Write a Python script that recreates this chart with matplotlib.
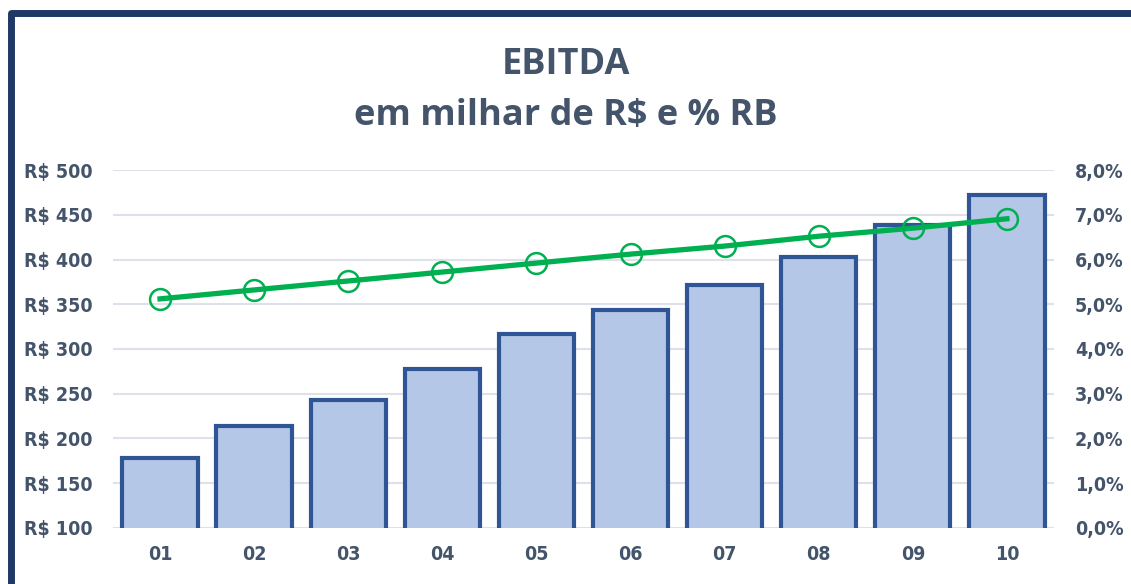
import matplotlib
matplotlib.use("Agg")
import matplotlib.pyplot as plt
from matplotlib.patches import Rectangle
from matplotlib.ticker import FuncFormatter

# dados
categorias = ["01", "02", "03", "04", "05", "06", "07", "08", "09", "10"]
ebitda = [178, 214, 243, 278, 317, 344, 371, 403, 439, 472]
pct_rb = [5.12, 5.32, 5.52, 5.72, 5.92, 6.12, 6.30, 6.52, 6.70, 6.91]

cor_texto = "#44546A"
cor_barra = "#B4C7E7"
cor_borda = "#2F5597"
cor_linha = "#00B050"

fig = plt.figure(figsize=(11.31, 5.84), dpi=100)
ax = fig.add_axes([0.0999, 0.0959, 0.832, 0.613])

x = list(range(len(categorias)))
ax.bar(x, ebitda, width=0.8, bottom=0, color=cor_barra, edgecolor=cor_borda,
       linewidth=3, zorder=3)
ax.set_ylim(100, 500)
ax.set_xlim(-0.5, len(categorias) - 0.5)
ax.set_yticks(range(100, 501, 50))
ax.yaxis.set_major_formatter(FuncFormatter(lambda v, p: "R$ %d" % v))
ax.set_xticks(x)
ax.set_xticklabels(categorias)
ax.grid(axis="y", color="#DDE2EA", linewidth=1.5, zorder=0)
ax.set_axisbelow(True)

ax2 = ax.twinx()
ax2.plot(x, pct_rb, color=cor_linha, linewidth=3.8, marker="o", markersize=15,
         markerfacecolor="none", markeredgecolor=cor_linha, markeredgewidth=1.8,
         zorder=4)
ax2.set_ylim(0, 8)
ax2.set_yticks(range(0, 9))
ax2.yaxis.set_major_formatter(FuncFormatter(lambda v, p: ("%.1f%%" % v).replace(".", ",")))

for a in (ax, ax2):
    for s in a.spines.values():
        s.set_visible(False)
    a.tick_params(length=0, colors=cor_texto, labelsize=14)
    for lbl in a.get_xticklabels() + a.get_yticklabels():
        lbl.set_family("DejaVu Sans")
        lbl.set_stretch("condensed")
        lbl.set_fontweight("bold")
ax.tick_params(axis="y", pad=15)
ax.tick_params(axis="x", pad=12)
ax2.tick_params(axis="y", pad=15)

fig.text(0.5, 0.889, "EBITDA", ha="center", va="center", fontsize=26,
         fontweight="bold", color=cor_texto, family=["Open Sans", "DejaVu Sans"])
fig.text(0.5, 0.802, "em milhar de R$ e % RB", ha="center", va="center", fontsize=26,
         fontweight="bold", color=cor_texto, family=["Open Sans", "DejaVu Sans"])

# moldura
fig.patches.append(Rectangle((0.0097, -0.1), 1.2, 1.0777, transform=fig.transFigure,
                             fill=False, edgecolor="#1F3864", linewidth=5,
                             joinstyle="round", figure=fig))

fig.savefig("out.png", dpi=100, facecolor="white")
